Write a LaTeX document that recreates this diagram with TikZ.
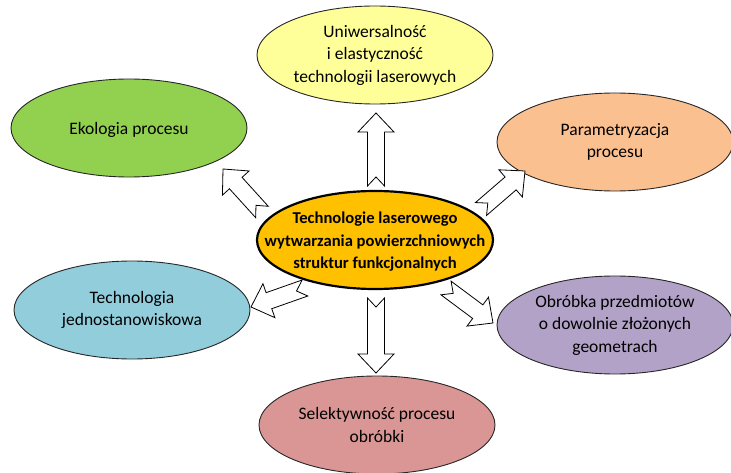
\documentclass[tikz,border=0pt]{standalone}
\usepackage{fontspec}
\setmainfont{Carlito}
\usetikzlibrary{shapes.geometric,calc}

% hollow block arrow with notched tail, from #1 (tail) to #2 (tip)
\newcommand{\blockarrow}[2]{%
	\coordinate (hb) at ($(#2)!19pt!(#1)$);
	\draw[hollow arrow] ($(#1)!8.5pt!90:(#2)$) -- ($(hb)!8.5pt!90:(#2)$) -- ($(hb)!18pt!90:(#2)$) -- (#2)
		-- ($(hb)!18pt!-90:(#2)$) -- ($(hb)!8.5pt!-90:(#2)$) -- ($(#1)!8.5pt!-90:(#2)$) -- ($(#1)!9pt!(#2)$) -- cycle;
}

\begin{document}
\begin{tikzpicture}
			[x=1pt,y=-1pt,line join=miter,
			%Styles
			topic/.style={ellipse,draw=black!85,line width=0.9pt,minimum width=236pt,minimum height=98pt,inner sep=0pt},
			core/.style={topic,line width=2.2pt,draw=black},
			topic text/.style={align=center,inner sep=0pt,font=\fontsize{17.5}{22.5}\selectfont},
			core text/.style={topic text,font=\fontsize{16.6}{22.5}\selectfont\bfseries},
			hollow arrow/.style={draw=black,fill=white,line width=0.8pt}
			]
			
			%Colors
			\definecolor{coreyellow}{HTML}{FFC000}
			\definecolor{paleyellow}{HTML}{FFFF99}
			\definecolor{ecogreen}{HTML}{92D050}
			\definecolor{peach}{HTML}{FAC090}
			\definecolor{skyblue}{HTML}{92CDDC}
			\definecolor{lavender}{HTML}{B2A2C7}
			\definecolor{rose}{HTML}{D99694}
			
			\useasboundingbox (0,0) rectangle (731,473);
			
			%The graphic
			\node[core,fill=coreyellow] (core) at (375,240) {};
			\node[core text] (core label) at ([yshift=-2pt]core) {Technologie laserowego\\wytwarzania powierzchniowych\\struktur funkcjonalnych};
			
			\node[topic,fill=paleyellow] (universal) at (375,55) {};
			\node[topic text] (universal label) at (universal) {Uniwersalność\\i elastyczność\\technologii laserowych};
			\node[topic,fill=ecogreen] (ecology) at (129,128) {};
			\node[topic text] (ecology label) at ([yshift=-2pt]ecology) {Ekologia procesu};
			\node[topic,fill=peach] (params) at (615,142) {};
			\node[topic text] (params label) at (params) {Parametryzacja\\procesu};
			\node[topic,fill=skyblue] (single) at (132,310) {};
			\node[topic text] (single label) at (single) {Technologia\\jednostanowiskowa};
			\node[topic,fill=lavender] (shapes) at (615,325) {};
			\node[topic text] (shapes label) at (shapes) {Obróbka przedmiotów\\o dowolnie złożonych\\geometrach};
			\node[topic,fill=rose] (select) at (377,425) {};
			\node[topic text] (select label) at (select) {Selektywność procesu\\obróbki};
			
			%Arrows: tails and tips
			\coordinate (up tail) at (376,186);	\coordinate (up tip) at (376,113);
			\coordinate (ul tail) at (262,212);	\coordinate (ul tip) at (223,169);
			\coordinate (ur tail) at (481,209);	\coordinate (ur tip) at (525,171);
			\coordinate (dl tail) at (305,288);	\coordinate (dl tip) at (251,307);
			\coordinate (dr tail) at (446,288);	\coordinate (dr tip) at (493,323);
			\coordinate (dn tail) at (376,298);	\coordinate (dn tip) at (376,373);
			
			\blockarrow{up tail}{up tip}
			\blockarrow{ul tail}{ul tip}
			\blockarrow{ur tail}{ur tip}
			\blockarrow{dl tail}{dl tip}
			\blockarrow{dr tail}{dr tip}
			\blockarrow{dn tail}{dn tip}
		\end{tikzpicture}
\end{document}
